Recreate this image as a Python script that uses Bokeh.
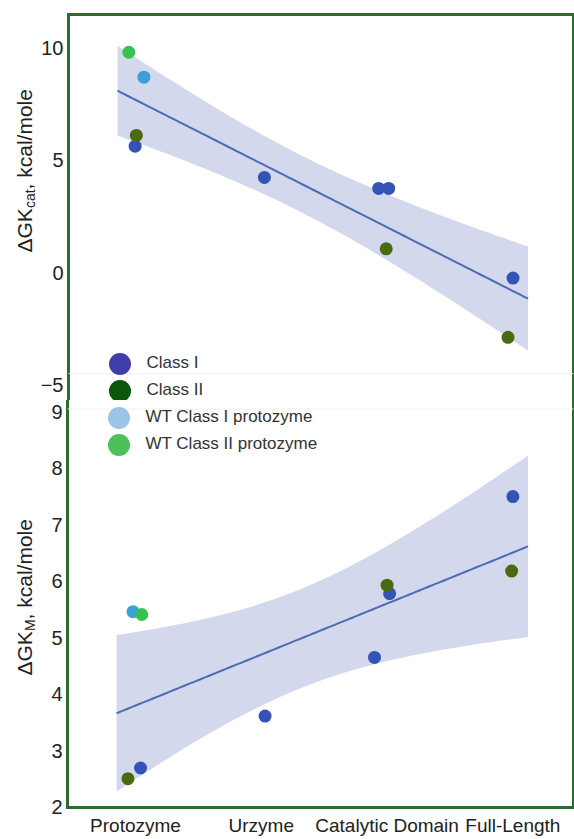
import numpy as np
from bokeh.plotting import figure
from bokeh.models import Range1d, LinearAxis, FixedTicker, Legend, LegendItem, Label, Span
from bokeh.layouts import column, row
from bokeh.embed import file_html
from bokeh.resources import INLINE

# ---------------- data ----------------
CATEGORIES = ["Protozyme", "Urzyme", "Catalytic Domain", "Full-Length"]
CAT_POS = [1, 2, 3, 4]

KCAT_TICKS = [-5, 0, 5, 10]
KM_TICKS = [2, 3, 4, 5, 6, 7, 8, 9]

# top panel: dGKcat (kcal/mole)
KCAT_C1_X = [1, 2, 3, 3, 4]
KCAT_C1_Y = [5.63, 4.24, 3.75, 3.75, -0.24]
KCAT_C2_X = [1, 3, 4]
KCAT_C2_Y = [6.11, 1.06, -2.88]
KCAT_WT1_X = [1]
KCAT_WT1_Y = [8.70]
KCAT_WT2_X = [1]
KCAT_WT2_Y = [9.81]

# bottom panel: dGKM (kcal/mole)
KM_C1_X = [1, 2, 3, 3, 4]
KM_C1_Y = [2.69, 3.61, 5.78, 4.65, 7.50]
KM_C2_X = [1, 3, 4]
KM_C2_Y = [2.50, 5.93, 6.18]
KM_WT1_X = [1]
KM_WT1_Y = [5.46]
KM_WT2_X = [1]
KM_WT2_Y = [5.41]

LEGEND_LABELS = ["Class I", "Class II", "WT Class I protozyme", "WT Class II protozyme"]

# ---------------- display offsets (horizontal jitter) ----------------
JIT_KCAT_C1 = [-0.01, 0.02, -0.07, 0.01, 0.0]
JIT_KCAT_C2 = [0.0, -0.01, -0.04]
JIT_KCAT_WT1 = [0.06]
JIT_KCAT_WT2 = [-0.06]
JIT_KM_C1 = [0.04, 0.03, 0.02, -0.10, 0.0]
JIT_KM_C2 = [-0.06, 0.0, -0.01]
JIT_KM_WT1 = [-0.02]
JIT_KM_WT2 = [0.05]

# ---------------- styles ----------------
FONT = "Liberation Sans"
BORDER = "#2e6b30"
C1 = "#3553b6"
C2 = "#4a6a10"
WT1 = "#3aa1d8"
WT2 = "#39c24b"
LEG_COLORS = ["#3f3ea8", "#0b560b", "#9dc3e6", "#4cc05a"]
BAND = "#d3d8ec"
LINE = "#4a6cb3"
PT = 13
FIT_RANGE = (0.85, 4.12)
LAB_W = 37
W = 574 - LAB_W

def jit(xs, js):
    return [a + b for a, b in zip(xs, js)]

def fit_band(xs, ys, lo, hi, n=80):
    x = np.asarray(xs, float)
    y = np.asarray(ys, float)
    slope, intercept = np.polyfit(x, y, 1)
    resid = y - (slope * x + intercept)
    dof = len(x) - 2
    s = np.sqrt(np.sum(resid ** 2) / dof)
    xg = np.linspace(lo, hi, n)
    yg = slope * xg + intercept
    se = s * np.sqrt(1.0 / len(x) + (xg - x.mean()) ** 2 / np.sum((x - x.mean()) ** 2))
    t = 2.306  # t(0.975, df=8)
    return xg, yg, yg - t * se, yg + t * se

def make_axis(ticks, overrides=None, standoff=5, size="20px"):
    ax = LinearAxis(ticker=FixedTicker(ticks=list(ticks), minor_ticks=[]))
    ax.axis_line_color = BORDER
    ax.axis_line_width = 3
    ax.axis_line_cap = "square"
    ax.major_tick_line_color = None
    ax.minor_tick_line_color = None
    ax.major_tick_out = 0
    ax.major_tick_in = 0
    ax.minor_tick_out = 0
    ax.minor_tick_in = 0
    ax.major_label_text_font = FONT
    ax.major_label_text_font_size = size
    ax.major_label_text_color = "#222222"
    ax.major_label_standoff = standoff
    if overrides:
        ax.major_label_overrides = overrides
    return ax

x_range = Range1d(0.4595, 4.4817)

def make_fig(height, y_range, top, bottom):
    p = figure(width=W, height=height, x_range=x_range, y_range=y_range,
               output_backend="svg", toolbar_location=None,
               x_axis_location=None, y_axis_location=None,
               min_border=0, min_border_left=30, min_border_right=1,
               min_border_top=top, min_border_bottom=bottom)
    p.outline_line_color = None
    p.xgrid.visible = False
    p.ygrid.visible = False
    p.background_fill_color = "white"
    p.border_fill_color = "white"
    return p

def label_fig(height, sub, start, sub_w):
    f = figure(width=LAB_W, height=height, x_range=Range1d(0, 1), y_range=Range1d(0, 1),
               output_backend="svg", toolbar_location=None,
               x_axis_location=None, y_axis_location=None, min_border=0)
    f.outline_line_color = None
    f.xgrid.visible = False
    f.ygrid.visible = False
    base = dict(x_units="screen", y_units="screen", angle=np.pi / 2,
                text_font=FONT, text_color="#222222",
                text_baseline="middle", text_align="left")
    w1 = 44.4
    f.add_layout(Label(x=23.5, y=start, text="\u0394GK", text_font_size="21px", **base))
    f.add_layout(Label(x=29, y=start + w1, text=sub, text_font_size="14px", **base))
    f.add_layout(Label(x=23.5, y=start + w1 + sub_w, text=", kcal/mole", text_font_size="21px", **base))
    return f

def panel(p, xs_all, ys_all, series):
    xg, yg, lo, hi = fit_band(xs_all, ys_all, *FIT_RANGE)
    p.varea(x=xg, y1=lo, y2=hi, fill_color=BAND, fill_alpha=1.0)
    p.line(x=xg, y=yg, line_color=LINE, line_width=2)
    for xs, ys, js, col in series:
        p.scatter(x=jit(xs, js), y=ys, size=PT, fill_color=col, line_color=None)

def legend_entry(p, label, color, loc):
    # one single-item legend per entry, so that the marker can be large
    r = p.scatter(x=[np.nan], y=[np.nan], size=22, fill_color=color, line_color=None)
    lg = Legend(items=[LegendItem(label=label, renderers=[r])], location=loc,
                background_fill_alpha=0, border_line_color=None,
                padding=0, margin=0, spacing=0, glyph_height=55, glyph_width=55,
                label_height=55, label_standoff=0, label_text_font=FONT,
                label_text_font_size="17px", label_text_color="#333333")
    p.add_layout(lg)

# ---------------- top panel ----------------
top = make_fig(400, Range1d(-5.69, 11.49), 14, 0)
top.add_layout(make_axis(KCAT_TICKS, overrides={-5: "\u22125"}), "left")
top.add_layout(make_axis([]), "above")
top.add_layout(make_axis([]), "right")
top.add_layout(Span(location=-4.49, dimension="width", line_color="#f0f0f0", line_width=1))
panel(top,
      KCAT_C1_X + KCAT_C2_X + KCAT_WT1_X + KCAT_WT2_X,
      KCAT_C1_Y + KCAT_C2_Y + KCAT_WT1_Y + KCAT_WT2_Y,
      [(KCAT_C1_X, KCAT_C1_Y, JIT_KCAT_C1, C1),
       (KCAT_C2_X, KCAT_C2_Y, JIT_KCAT_C2, C2),
       (KCAT_WT1_X, KCAT_WT1_Y, JIT_KCAT_WT1, WT1),
       (KCAT_WT2_X, KCAT_WT2_Y, JIT_KCAT_WT2, WT2)])
legend_entry(top, LEGEND_LABELS[0], LEG_COLORS[0], (23.5, 9.5))
legend_entry(top, LEGEND_LABELS[1], LEG_COLORS[1], (23.5, -17.5))
top_lab = label_fig(400, "cat", 148, 18.7)

# ---------------- bottom panel ----------------
bot = make_fig(439, Range1d(1.99, 9.202), 0, 32)
bot.add_layout(make_axis(KM_TICKS), "left")
bot.add_layout(make_axis([]), "right")
bot.add_layout(make_axis(CAT_POS, overrides={k: v for k, v in zip(CAT_POS, CATEGORIES)},
                         standoff=7, size="19px"), "below")
bot.add_layout(Span(location=9.05, dimension="width", line_color="#f0f0f0", line_width=1))
panel(bot,
      KM_C1_X + KM_C2_X + KM_WT1_X + KM_WT2_X,
      KM_C1_Y + KM_C2_Y + KM_WT1_Y + KM_WT2_Y,
      [(KM_C1_X, KM_C1_Y, JIT_KM_C1, C1),
       (KM_C2_X, KM_C2_Y, JIT_KM_C2, C2),
       (KM_WT1_X, KM_WT1_Y, JIT_KM_WT1, WT1),
       (KM_WT2_X, KM_WT2_Y, JIT_KM_WT2, WT2)])
legend_entry(bot, LEGEND_LABELS[2], LEG_COLORS[2], (23.5, 362.5))
legend_entry(bot, LEGEND_LABELS[3], LEG_COLORS[3], (23.5, 335.5))
bot_lab = label_fig(439, "M", 132, 11.7)

layout = column(row(top_lab, top, spacing=0), row(bot_lab, bot, spacing=0), spacing=0)
open("out.html", "w").write(file_html(layout, INLINE))
